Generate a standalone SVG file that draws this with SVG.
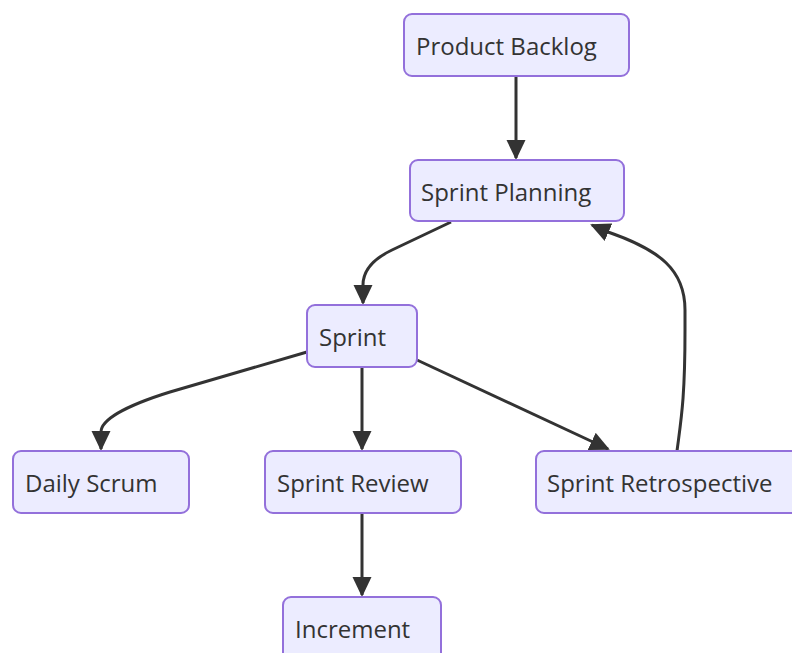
<svg xmlns="http://www.w3.org/2000/svg" width="792" height="653" viewBox="0 0 792 653">
<style>
.node rect{fill:#ECECFF;stroke:#9370DB;stroke-width:2}
.node text{font-family:"Open Sans","Noto Sans","DejaVu Sans",sans-serif;font-size:24px;fill:#333}
.edge{fill:none;stroke:#333;stroke-width:3}
</style>
<defs>
<marker id="arrow" markerUnits="userSpaceOnUse" markerWidth="20" markerHeight="20" viewBox="0 0 20 20" refX="18" refY="10" orient="auto">
<path d="M0,0.5 L20,10 L0,19.5 z" fill="#333"/>
</marker>
</defs>
<rect width="792" height="653" fill="#fff"/>
<g id="edges">
<path class="edge" marker-end="url(#arrow)" d="M516,76 L516,158"/>
<path class="edge" marker-end="url(#arrow)" d="M451,222 L392,250 C371,260 363,272 363,285 L363,303"/>
<path class="edge" marker-end="url(#arrow)" d="M307,352 L170,392 C125,406 101,420 101,432 L101,449"/>
<path class="edge" marker-end="url(#arrow)" d="M362,367 L362,449"/>
<path class="edge" marker-end="url(#arrow)" d="M417,360 L608,449"/>
<path class="edge" marker-end="url(#arrow)" d="M677,451 C681,420 685,400 685,330 L685,310 C685,270 660,250 608,232 L592,225"/>
<path class="edge" marker-end="url(#arrow)" d="M362,513 L362,595"/>
</g>
<g id="productBacklog" class="node"><rect x="404" y="14" width="225" height="62" rx="8"/><text x="416" y="55">Product Backlog</text></g>
<g id="sprintPlanning" class="node"><rect x="410" y="160" width="214" height="61" rx="8"/><text x="421" y="201">Sprint Planning</text></g>
<g id="sprint" class="node"><rect x="307" y="305" width="110" height="62" rx="8"/><text x="319" y="346">Sprint</text></g>
<g id="dailyScrum" class="node"><rect x="13" y="451" width="176" height="62" rx="8"/><text x="25" y="492">Daily Scrum</text></g>
<g id="sprintReview" class="node"><rect x="265" y="451" width="196" height="62" rx="8"/><text x="277" y="492">Sprint Review</text></g>
<g id="sprintRetrospective" class="node"><rect x="536" y="451" width="270" height="62" rx="8"/><text x="547" y="492">Sprint Retrospective</text></g>
<g id="increment" class="node"><rect x="283" y="597" width="158" height="70" rx="8"/><text x="295" y="638">Increment</text></g>
</svg>
